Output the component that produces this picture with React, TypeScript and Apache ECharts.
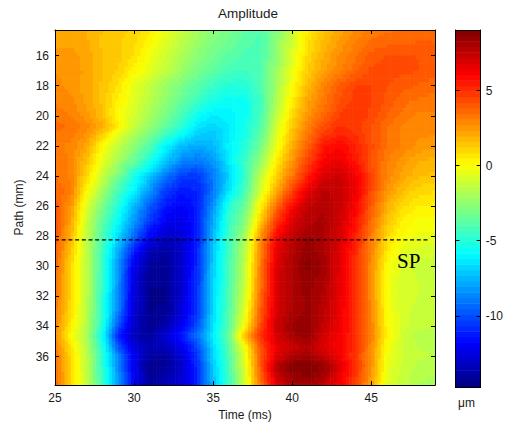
import React, { useEffect, useRef } from "react";
import * as echarts from "echarts";

const timeColumns = [25, 26, 27, 28, 29, 30, 31, 32, 33, 34, 35, 36, 37, 38, 39, 40, 41, 42, 43, 44, 45, 46, 47, 48, 49.03];
const pathRows = [14.3, 15, 16, 17, 18, 19, 20, 20.7, 21.3, 22, 23, 24, 25, 26, 27, 28, 29, 30, 31, 32, 33, 34, 34.6, 35.4, 36, 36.7, 38];
const amplitude = [
  [2.2, 2.2, 2, 1.6, 1.4, 1.1, .5, -.4, -1.2, -2, -2.6, -3.1, -3.6, -3.9, -2.8, -1.1, .5, 1.5, 2.2, 2.8, 3.3, 3.4, 3.5, 3.6, 3.6],
  [2.2, 2.2, 2, 1.5, 1.3, 1, .3, -.6, -1.4, -2.2, -2.8, -3.3, -3.8, -4.1, -2.6, -.9, .8, 1.7, 2.4, 3, 3.5, 3.6, 3.7, 3.8, 3.8],
  [2.5, 2.5, 2.2, 1.6, 1.4, .8, -.2, -1, -1.8, -2.6, -3.2, -3.7, -4.1, -4.1, -2.5, -.7, 1, 2, 2.8, 3.4, 4, 4.2, 4.2, 4.2, 4],
  [2.7, 2.7, 2.2, 1.6, 1.2, .3, -.5, -1.3, -2.2, -3, -3.7, -4.2, -4.4, -4, -2.2, -.3, 1.3, 2.3, 3, 3.7, 4.3, 4.4, 4.3, 4.2, 4],
  [2.8, 2.6, 2.2, 1.5, .8, -.5, -1.3, -2.2, -3, -3.8, -4.5, -5, -5, -4, -2, 0, 1.8, 3, 4, 4.6, 4.6, 4.2, 4, 3.8, 3.6],
  [3, 2.8, 2.2, 1.5, .4, -.6, -1.5, -2.5, -3.5, -4.4, -5.3, -5.7, -5.6, -4.4, -1.8, .5, 2.2, 3.3, 4.2, 4.7, 4.6, 4.1, 3.6, 3.4, 3.3],
  [3.3, 3.1, 2.5, 1.6, 0, -.9, -2, -3, -4.2, -5.6, -6.2, -6, -5.6, -4.2, -1.4, 1, 2.6, 3.7, 4.6, 5, 4.5, 3.8, 3.3, 3, 3],
  [3.6, 3.4, 2.9, 2.1, .6, -1.2, -2.4, -3.6, -4.8, -6.3, -6.8, -6.2, -5.4, -4, -.9, 1.4, 3.1, 4.3, 5, 4.7, 4.2, 3.5, 3, 2.8, 2.8],
  [3.4, 3.2, 2.6, 1.2, -.6, -1.9, -3.1, -4.4, -5.8, -7, -7.2, -6.2, -5.3, -3.7, -.7, 1.6, 3.4, 4.8, 5.4, 5, 4.2, 3.5, 3, 2.8, 2.7],
  [3.2, 3, 2.2, .1, -1.3, -2.5, -3.9, -6, -7.3, -7.8, -7.4, -6, -5, -3.2, -.3, 2, 3.8, 5.6, 6, 5.3, 4.3, 3.5, 3, 2.6, 2.4],
  [3.4, 3, 1.6, -.4, -1.9, -3.5, -5.2, -7, -8.6, -9, -8.2, -6.3, -4.5, -2.4, .5, 2.6, 4.5, 6.2, 6.5, 5.6, 4.2, 3.1, 2.5, 2, 1.8],
  [3.5, 3, 1, -1.1, -3.1, -5.2, -7, -9, -10.4, -10.6, -9, -6.8, -4.6, -1.4, 1.2, 3.3, 5.4, 7, 7.2, 6.3, 4.5, 3, 2.2, 1.7, 1.5],
  [3.8, 3.2, .3, -2, -4.3, -6, -8.4, -10.4, -11.3, -11, -9, -6.4, -4.2, -.9, 2, 4.6, 6.6, 7.6, 7.4, 6.4, 4.4, 2.6, 1.6, 1, .9],
  [4, 2.6, -.7, -3, -5, -7.5, -9.7, -11.3, -11.9, -11.2, -8.3, -5, -3.4, .4, 3.6, 6, 7.5, 7.9, 7.3, 6.2, 4, 2, .9, .5, .4],
  [4.2, 2.2, -1.1, -3.6, -5.8, -8.2, -10.5, -12, -12.3, -11.2, -7.8, -4.6, -2.8, 1.2, 4.8, 6.8, 7.8, 8, 7.2, 5.8, 3.6, 1.5, .4, 0, 0],
  [4.2, 1.8, -1.3, -4, -6.6, -9.4, -11.8, -13, -12.8, -11.2, -7.4, -4.4, -2, 2.6, 6, 7.5, 8.3, 8, 7, 5.4, 3.2, 1, 0, -.3, -.4],
  [4, 1.4, -1.4, -4.4, -7.8, -11.2, -13.4, -14, -13, -11, -7, -4.3, -1.6, 3, 6.6, 7.8, 8.6, 8, 6.8, 5.2, 3, .6, -.5, -.8, -.9],
  [3.8, 1, -1.4, -4.5, -8.2, -12.2, -14.1, -14.2, -12.9, -10.8, -6.9, -4.2, -1.4, 3.2, 6.8, 8, 8.8, 8.2, 6.7, 5, 2.8, .1, -.8, -1.1, -1.2],
  [3.6, 1, -1.4, -4.6, -8.4, -12.5, -14.3, -14.3, -12.8, -10.7, -6.8, -4.2, -1.2, 3.4, 6.9, 8, 8.5, 8, 6.6, 5, 2.8, -.1, -.9, -1, -1.2],
  [3.5, 1, -1.4, -4.7, -8.5, -12.7, -14.4, -14.5, -12.8, -10.6, -6.6, -4, -1, 3.6, 7, 8, 8.4, 7.8, 6.6, 5, 2.8, -.1, -.9, -1, -1.1],
  [3.3, .9, -1.5, -4.8, -8.8, -12.8, -14.4, -14.2, -12.6, -10.6, -6.6, -3.9, -.6, 4, 7, 8, 8.4, 7.6, 6.5, 5, 3, 0, -.9, -1.1, -1.2],
  [3, .5, -1.6, -5, -10, -13, -14.4, -13.6, -12, -10, -6.4, -3.8, .2, 4.4, 7.2, 8.3, 8.6, 7.4, 6.5, 5, 3, .2, -.9, -1.2, -1.3],
  [2.8, .1, -1.8, -5.6, -11, -13.5, -14, -12.8, -11.2, -9.1, -6.2, -3.4, 1.8, 5, 7, 8.2, 8.5, 7, 6.3, 5, 3.2, .3, -1, -1.6, -1.8],
  [3.2, .7, -1.6, -5, -9.8, -12.6, -13.6, -13.4, -12.2, -10.2, -6.6, -3.8, -.2, 4.2, 6.6, 7.2, 7.8, 6.8, 6.2, 5, 2.8, -.1, -1, -1.4, -1.4],
  [3.6, 1, -1.4, -4.8, -8.5, -12.2, -14, -14, -12.8, -10.6, -6.8, -4, -.4, 4, 6.8, 8, 8.3, 7.4, 6.4, 4.8, 2.7, -.2, -1, -1.3, -1.4],
  [3.6, 1, -1.4, -4.7, -8.5, -12.3, -14.4, -14.1, -13, -10.8, -7, -4.2, -.7, 4, 7.8, 9, 9.03, 8.6, 6.8, 5, 2.7, -.4, -1.1, -1.5, -1.6],
  [3.8, 1.1, -1.2, -4.4, -8, -11.8, -14, -13.4, -12.6, -11, -7.4, -4.4, -1, 3.4, 6.6, 7.9, 8.2, 7.4, 6.2, 4.6, 2.2, -.6, -1.3, -1.8, -2],
];
const timeTicks = [25, 30, 35, 40, 45];
const pathTicks = [16, 18, 20, 22, 24, 26, 28, 30, 32, 34, 36];
const colorTicks = [-10, -5, 0, 5];
const spLine = [[25, 28.25], [48.66, 28.25]];
const colorMin = -14.74;
const colorMax = 9.03;
const levelCount = 64;

const clamp = (v: number) => Math.max(0, Math.min(1, v));
function jet(t: number) {
  const r = clamp(1.5 - Math.abs(4 * t - 3));
  const g = clamp(1.5 - Math.abs(4 * t - 2));
  const b = clamp(1.5 - Math.abs(4 * t - 1));
  return `rgb(${Math.round(r * 255)},${Math.round(g * 255)},${Math.round(b * 255)})`;
}
function colorOf(v: number) {
  const idx = Math.max(0, Math.min(levelCount - 1, Math.floor(((v - colorMin) / (colorMax - colorMin)) * levelCount)));
  return jet((idx + 0.5) / levelCount);
}

const cellPoints: number[][] = [];
pathRows.forEach((p, j) => timeColumns.forEach((t, i) => cellPoints.push([t, p, amplitude[j][i], i, j])));

const SUB_X = 5;
const SUB_Y = 4;
function renderCell(_params: any, api: any) {
  const i = api.value(3);
  const j = api.value(4);
  if (i >= timeColumns.length - 1 || j >= pathRows.length - 1) return null;
  const p0 = api.coord([timeColumns[i], pathRows[j]]);
  const p1 = api.coord([timeColumns[i + 1], pathRows[j + 1]]);
  const a = amplitude[j][i];
  const b = amplitude[j][i + 1];
  const c = amplitude[j + 1][i];
  const d = amplitude[j + 1][i + 1];
  const w = (p1[0] - p0[0]) / SUB_X;
  const h = (p1[1] - p0[1]) / SUB_Y;
  const children: any[] = [];
  for (let sy = 0; sy < SUB_Y; sy++) {
    const fy = (sy + 0.5) / SUB_Y;
    for (let sx = 0; sx < SUB_X; sx++) {
      const fx = (sx + 0.5) / SUB_X;
      const v = (a * (1 - fx) + b * fx) * (1 - fy) + (c * (1 - fx) + d * fx) * fy;
      children.push({
        type: "rect",
        shape: { x: p0[0] + sx * w, y: p0[1] + sy * h, width: w + 0.6, height: h + 0.6 },
        style: { fill: colorOf(v) },
        silent: true,
      });
    }
  }
  return { type: "group", children };
}

const barLevels = Array.from({ length: levelCount }, (_, k) => [k, colorMin + ((k + 0.5) * (colorMax - colorMin)) / levelCount]);
function renderLevel(_params: any, api: any) {
  const k = api.value(0);
  const step = (colorMax - colorMin) / levelCount;
  const lo = colorMin + k * step;
  const p0 = api.coord([0, lo + step]);
  const p1 = api.coord([1, lo]);
  return {
    type: "rect",
    shape: { x: p0[0], y: p0[1], width: p1[0] - p0[0], height: p1[1] - p0[1] + 0.5 },
    style: { fill: jet((k + 0.5) / levelCount) },
    silent: true,
  };
}

const FONT = "Liberation Sans";
const lineStyle = { color: "#000", width: 1 };

function mainX(position: string, labels: boolean) {
  return {
    type: "value", gridIndex: 0, position, min: 25, max: 49.03, z: 5,
    axisLine: { show: true, onZero: false, lineStyle },
    axisTick: { show: true, inside: true, length: 4, lineStyle, customValues: timeTicks },
    axisLabel: { show: labels, customValues: timeTicks, color: "#1a1a1a", fontSize: 12, fontFamily: FONT, margin: 7 },
    splitLine: { show: false },
    name: labels ? "Time (ms)" : "",
    nameLocation: "middle", nameGap: 21,
    nameTextStyle: { color: "#1a1a1a", fontSize: 12, fontFamily: FONT },
  };
}
function mainY(position: string, labels: boolean) {
  return {
    type: "value", gridIndex: 0, position, min: 14.3, max: 37.9, inverse: true, z: 5,
    axisLine: { show: true, onZero: false, lineStyle },
    axisTick: { show: true, inside: true, length: 4, lineStyle, customValues: pathTicks },
    axisLabel: { show: labels, customValues: pathTicks, color: "#1a1a1a", fontSize: 12, fontFamily: FONT, margin: 6 },
    splitLine: { show: false },
    name: labels ? "Path (mm)" : "",
    nameLocation: "middle", nameGap: 27, nameRotate: 90,
    nameTextStyle: { color: "#1a1a1a", fontSize: 12, fontFamily: FONT },
  };
}
function barX(position: string) {
  return {
    type: "value", gridIndex: 1, position, min: 0, max: 1, z: 5,
    axisLine: { show: true, onZero: false, lineStyle },
    axisTick: { show: false }, axisLabel: { show: false }, splitLine: { show: false },
  };
}
function barY(position: string, labels: boolean) {
  return {
    type: "value", gridIndex: 1, position, min: colorMin, max: colorMax, z: 5,
    axisLine: { show: true, onZero: false, lineStyle },
    axisTick: { show: true, inside: true, length: 4, lineStyle, customValues: colorTicks },
    axisLabel: { show: labels, customValues: colorTicks, color: "#1a1a1a", fontSize: 12, fontFamily: FONT, margin: 5 },
    splitLine: { show: false },
  };
}

export default function App() {
  const ref = useRef<HTMLDivElement>(null);
  useEffect(() => {
    document.body.style.margin = "0";
    const chart = echarts.init(ref.current!, undefined, { renderer: "svg" });
    chart.setOption({
      animation: false,
      backgroundColor: "#fff",
      title: {
        text: "Amplitude", left: 243, top: 1, textAlign: "center",
        textStyle: { color: "#1a1a1a", fontSize: 13.5, fontWeight: "normal", fontFamily: FONT },
      },
      grid: [
        { left: 55, top: 30, width: 380, height: 357 },
        { left: 455.5, top: 30, width: 29, height: 357 },
      ],
      xAxis: [mainX("bottom", true), mainX("top", false), barX("bottom"), barX("top")],
      yAxis: [mainY("left", true), mainY("right", false), barY("right", true), barY("left", false)],
      series: [
        {
          type: "custom", xAxisIndex: 0, yAxisIndex: 0, data: cellPoints, renderItem: renderCell, clip: true, silent: true, z: 1,
          encode: { x: 0, y: 1 },
        },
        {
          type: "line", xAxisIndex: 0, yAxisIndex: 0, data: spLine, symbol: "none", silent: true, z: 3,
          lineStyle: { color: "#000", width: 1.2, type: [4, 2.7] },
        },
        {
          type: "custom", xAxisIndex: 2, yAxisIndex: 2, data: barLevels, renderItem: renderLevel, silent: true, z: 1,
          encode: { y: 1 },
        },
      ],
      graphic: [
        { type: "text", x: 397, y: 250, z: 10, style: { text: "SP", fill: "#000", fontSize: 21, fontFamily: "Liberation Serif" } },
        { type: "text", x: 458, y: 397, z: 10, style: { text: "\u03bcm", fill: "#1a1a1a", fontSize: 12, fontFamily: FONT } },
      ],
    });
    return () => chart.dispose();
  }, []);
  return <div ref={ref} style={{ width: 506, height: 426 }} />;
}
